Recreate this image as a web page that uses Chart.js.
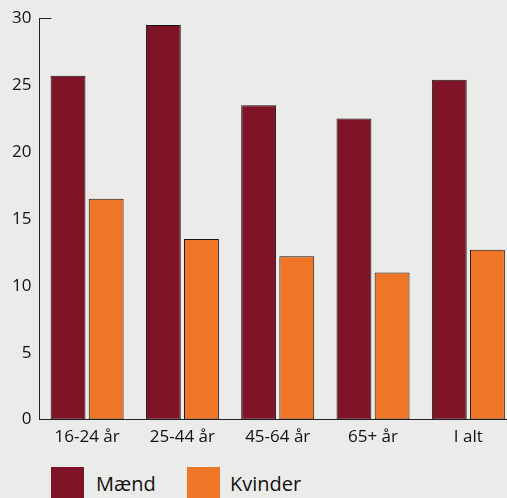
<!DOCTYPE html>
<html>
<head>
<meta charset="utf-8">
<script src="https://cdn.jsdelivr.net/npm/chart.js@4/dist/chart.umd.min.js"></script>
<style>
  html, body { margin: 0; padding: 0; background: #ebebe9; overflow: hidden; }
  #wrap { position: relative; width: 507px; height: 498px; overflow: hidden; }
  #box { position: absolute; left: 0; top: 0; width: 516px; height: 454px; }
  .legend { position: absolute; top: 467px; font-family: "Open Sans", sans-serif; font-size: 20px; color: #111; }
  .legend span.sw { position: absolute; top: 0; width: 33px; height: 33px; }
  .legend span.tx { position: absolute; top: 3px; white-space: nowrap; }
</style>
</head>
<body>
<div id="wrap">
  <div id="box"><canvas id="chart"></canvas></div>
  <div class="legend" style="left:51px"><span class="sw" style="left:0;background:#7f1427"></span><span class="tx" style="left:45px">Mænd</span></div>
  <div class="legend" style="left:187px"><span class="sw" style="left:0;background:#ef7626"></span><span class="tx" style="left:43px">Kvinder</span></div>
</div>
<script>
const categories = ["16-24 år", "25-44 år", "45-64 år", "65+ år", "I alt"];
const maend = [25.7, 29.5, 23.5, 22.5, 25.4];
const kvinder = [16.5, 13.5, 12.2, 11.0, 12.7];
const yTicks = [0, 5, 10, 15, 20, 25, 30];

// short tick to the right of the axis at the top value only
const topTick = {
  id: "topTick",
  afterDraw(chart) {
    const y = chart.scales.y;
    const ctx = chart.ctx;
    const py = Math.round(y.getPixelForValue(30)) + 0.5;
    ctx.save();
    ctx.strokeStyle = "#222";
    ctx.lineWidth = 1;
    ctx.beginPath();
    ctx.moveTo(y.right, py);
    ctx.lineTo(y.right + 12, py);
    ctx.stroke();
    ctx.restore();
  }
};

new Chart(document.getElementById("chart"), {
  type: "bar",
  data: {
    labels: categories,
    datasets: [
      { label: "Mænd", data: maend, backgroundColor: "#7f1427", borderColor: "#151515", borderWidth: 1, borderSkipped: false },
      { label: "Kvinder", data: kvinder, backgroundColor: "#ef7626", borderColor: "#151515", borderWidth: 1, borderSkipped: false }
    ]
  },
  options: {
    responsive: true,
    maintainAspectRatio: false,
    animation: false,
    layout: { padding: { top: 8, left: 4 } },
    plugins: { legend: { display: false }, tooltip: { enabled: false } },
    datasets: { bar: { categoryPercentage: 0.8, barPercentage: 0.915 } },
    scales: {
      x: {
        grid: { display: false, drawTicks: false },
        border: { display: true, color: "#222", width: 1 },
        ticks: { color: "#111", font: { family: "Open Sans", size: 17 }, padding: 7 }
      },
      y: {
        min: 0, max: 30,
        afterBuildTicks(axis) { axis.ticks = yTicks.map(v => ({ value: v })); },
        grid: { display: false, drawTicks: false },
        border: { display: true, color: "#222", width: 1 },
        ticks: { color: "#111", font: { family: "Open Sans", size: 17 }, padding: 8 }
      }
    }
  },
  plugins: [topTick]
});
</script>
</body>
</html>
